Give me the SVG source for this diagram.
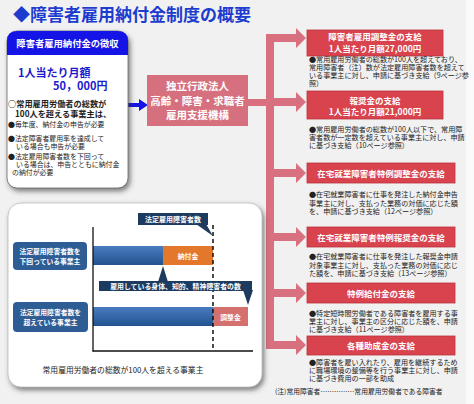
<svg xmlns="http://www.w3.org/2000/svg" width="474" height="404" viewBox="0 0 474 404">
<defs>
<style>
text{font-family:"Noto Sans CJK JP","Noto Sans",sans-serif;}
.w{fill:#fff;font-weight:bold;}
.b{fill:#222;}
.rb{fill:#d8434e;stroke:#bb333e;stroke-width:0.8;}
.pk{fill:#d9707f;}
.nv{fill:#1d3a5f;}
.lb{fill:#2e5d95;}
.rt{font-size:7.1px;fill:#222;}
.bt{font-size:8.5px;fill:#fff;font-weight:bold;}
</style>
<linearGradient id="bar" x1="0" y1="0" x2="0" y2="1">
<stop offset="0" stop-color="#4a7cc0"/>
<stop offset="1" stop-color="#22538f"/>
</linearGradient>
<filter id="sh" x="-10%" y="-10%" width="125%" height="125%">
<feDropShadow dx="2" dy="3" stdDeviation="2.5" flood-color="#333" flood-opacity="0.6"/>
</filter>
</defs>
<rect x="0" y="0" width="474" height="404" fill="#f1f1f1"/>
<rect x="466" y="0" width="8" height="404" fill="#fafafa"/>

<g id="title">
<text x="13" y="21" font-size="17" font-weight="bold" fill="#1c3ccf">◆障害者雇用納付金制度の概要</text>
</g>

<g id="connectors">
<path d="M128,103 H139 V99 L148,105 L139,111 V107 H128 Z" fill="#1414e6"/>
<rect class="pk" x="248" y="99" width="24" height="7"/>
<rect class="pk" x="266" y="34" width="8" height="315"/>
<g class="pk">
<path d="M266,34 H296 V28 L306,38 L296,48 V42 H266 Z"/>
<path d="M266,98 H296 V92 L306,102 L296,112 V106 H266 Z"/>
<path d="M266,169 H296 V163 L306,173 L296,183 V177 H266 Z"/>
<path d="M266,233 H296 V227 L306,237 L296,247 V241 H266 Z"/>
<path d="M266,289 H296 V283 L306,293 L296,303 V297 H266 Z"/>
<path d="M266,341 H296 V335 L306,345 L296,355 V349 H266 Z"/>
</g>
</g>

<g id="collect">
<rect x="7" y="31" width="121" height="157" rx="10" fill="#fff" stroke="#666" stroke-width="0.8" filter="url(#sh)"/>
<path d="M7,41 Q7,31 17,31 H118 Q128,31 128,41 V55 H7 Z" fill="#1414e6"/>
<text x="67.5" y="46.5" font-size="9.3" text-anchor="middle" class="w">障害者雇用納付金の徴収</text>
<text x="18" y="77" font-size="11" font-weight="bold" fill="#1a1acd">1人当たり月額</text>
<text x="53" y="90" font-size="11" font-weight="bold" fill="#1a1acd">50，000円</text>
<text x="8" y="107" font-size="8.2" font-weight="bold" class="b">○常用雇用労働者の総数が</text>
<text x="15" y="116.5" font-size="8.2" font-weight="bold" class="b">100人を超える事業主は、</text>
<g font-size="6.9" class="b">
<text x="8" y="127">●毎年度、納付金の申告が必要</text>
<text x="8" y="141">●法定障害者雇用率を達成して</text>
<text x="16" y="149">いる場合も申告が必要</text>
<text x="8" y="159">●法定雇用障害者数を下回って</text>
<text x="16" y="167">いる場合は、申告とともに納付金</text>
<text x="12" y="175">の納付が必要</text>
</g>
</g>

<g id="agency">
<rect x="147" y="75" width="101" height="51" fill="#d6707f"/>
<text x="197.5" y="90" font-size="10.5" text-anchor="middle" class="w">独立行政法人</text>
<text x="197.5" y="104.5" font-size="10.5" text-anchor="middle" class="w">高齢・障害・求職者</text>
<text x="197.5" y="119" font-size="10.5" text-anchor="middle" class="w">雇用支援機構</text>
</g>

<g id="pay1">
<rect class="rb" x="307" y="30" width="136" height="26"/>
<text class="bt" x="375" y="40" text-anchor="middle">障害者雇用調整金の支給</text>
<text class="bt" x="375" y="52" text-anchor="middle">1人当たり月額27,000円</text>
<text class="rt" x="309" y="62">●常用雇用労働者の総数が100人を超えており、</text>
<text class="rt" x="309" y="70">常用障害者（注）数が法定雇用障害者数を超えて</text>
<text class="rt" x="309" y="78">いる事業主に対し、申請に基づき支給（9ページ参</text>
<text class="rt" x="309" y="86">照）</text>
</g>

<g id="pay2">
<rect class="rb" x="307" y="91" width="136" height="28"/>
<text class="bt" x="375" y="104" text-anchor="middle">報奨金の支給</text>
<text class="bt" x="375" y="115" text-anchor="middle">1人当たり月額21,000円</text>
<text class="rt" x="309" y="132">●常用雇用労働者の総数が100人以下で、常用障</text>
<text class="rt" x="309" y="140">害者数が一定数を超えている事業主に対し、申請</text>
<text class="rt" x="309" y="148">に基づき支給（10ページ参照）</text>
</g>

<g id="pay3">
<rect class="rb" x="307" y="163" width="148" height="20"/>
<text class="bt" x="381" y="176.5" text-anchor="middle">在宅就業障害者特例調整金の支給</text>
<text class="rt" x="309" y="197">●在宅就業障害者に仕事を発注した納付金申告</text>
<text class="rt" x="309" y="205.5">事業主に対し、支払った業務の対価に応じた額</text>
<text class="rt" x="309" y="214">を、申請に基づき支給（12ページ参照）</text>
</g>

<g id="pay4">
<rect class="rb" x="307" y="227" width="148" height="20"/>
<text class="bt" x="381" y="240.5" text-anchor="middle">在宅就業障害者特例報奨金の支給</text>
<text class="rt" x="309" y="259">●在宅就業障害者に仕事を発注した報奨金申請</text>
<text class="rt" x="309" y="267.5">対象事業主に対し、支払った業務の対価に応じ</text>
<text class="rt" x="309" y="276">た額を、申請に基づき支給（13ページ参照）</text>
</g>

<g id="pay5">
<rect class="rb" x="307" y="283" width="148" height="20"/>
<text class="bt" x="381" y="296.5" text-anchor="middle">特例給付金の支給</text>
<text class="rt" x="309" y="316">●特定短時間労働者である障害者を雇用する事</text>
<text class="rt" x="309" y="324">業主に対し、事業主の区分に応じた額を、申請</text>
<text class="rt" x="309" y="332">に基づき支給（11ページ参照）</text>
</g>

<g id="pay6">
<rect class="rb" x="307" y="336" width="148" height="19"/>
<text class="bt" x="381" y="348.5" text-anchor="middle">各種助成金の支給</text>
<text class="rt" x="309" y="365">●障害者を雇い入れたり、雇用を継続するため</text>
<text class="rt" x="309" y="373">に職場環境の整備等を行う事業主に対し、申請</text>
<text class="rt" x="309" y="381">に基づき費用の一部を助成</text>
</g>

<g id="note">
<text x="275" y="394" font-size="6.8" class="b">(注)常用障害者……………常用雇用労働者である障害者</text>
</g>

<g id="chart">
<rect x="8" y="203" width="254" height="184" rx="13" fill="#fff" stroke="#aaa" stroke-width="0.6" filter="url(#sh)"/>
<rect x="93" y="246" width="70" height="19" fill="url(#bar)"/>
<rect x="163" y="246" width="50" height="19" fill="#e3782d"/>
<text x="188" y="258.5" font-size="6.8" text-anchor="middle" class="w">納付金</text>
<rect x="93" y="307" width="120" height="19" fill="url(#bar)"/>
<rect x="213" y="307" width="35" height="19" fill="#d4706e"/>
<text x="230.5" y="319.5" font-size="6.8" text-anchor="middle" class="w">調整金</text>
<line x1="93" y1="227" x2="93" y2="351.5" stroke="#111" stroke-width="1.3"/>
<line x1="92.5" y1="351" x2="253" y2="351" stroke="#111" stroke-width="1.3"/>
<line x1="213" y1="225" x2="213" y2="351" stroke="#111" stroke-width="1.5" stroke-dasharray="4,3"/>
<rect class="nv" x="138" y="213" width="70" height="12"/>
<polygon class="nv" points="196,224 206,224 213,236"/>
<text x="173" y="221.8" font-size="7" text-anchor="middle" class="w">法定雇用障害者数</text>
<rect class="nv" x="99" y="281" width="153" height="10"/>
<polygon class="nv" points="158,282 168,282 163,266"/>
<polygon class="nv" points="243,290 253,290 248,305"/>
<text x="175.5" y="288.5" font-size="6.9" text-anchor="middle" class="w">雇用している身体、知的、精神障害者の数</text>
<rect class="lb" x="13" y="242" width="74" height="28" rx="4"/>
<text x="50" y="254" font-size="6.8" text-anchor="middle" class="w">法定雇用障害者数を</text>
<text x="50" y="264" font-size="6.8" text-anchor="middle" class="w">下回っている事業主</text>
<rect class="lb" x="13" y="302" width="75" height="30" rx="4"/>
<text x="50.5" y="315" font-size="6.8" text-anchor="middle" class="w">法定雇用障害者数を</text>
<text x="50.5" y="325" font-size="6.8" text-anchor="middle" class="w">超えている事業主</text>
<text x="123" y="373" font-size="7.8" text-anchor="middle" class="b">常用雇用労働者の総数が100人を超える事業主</text>
</g>
</svg>
